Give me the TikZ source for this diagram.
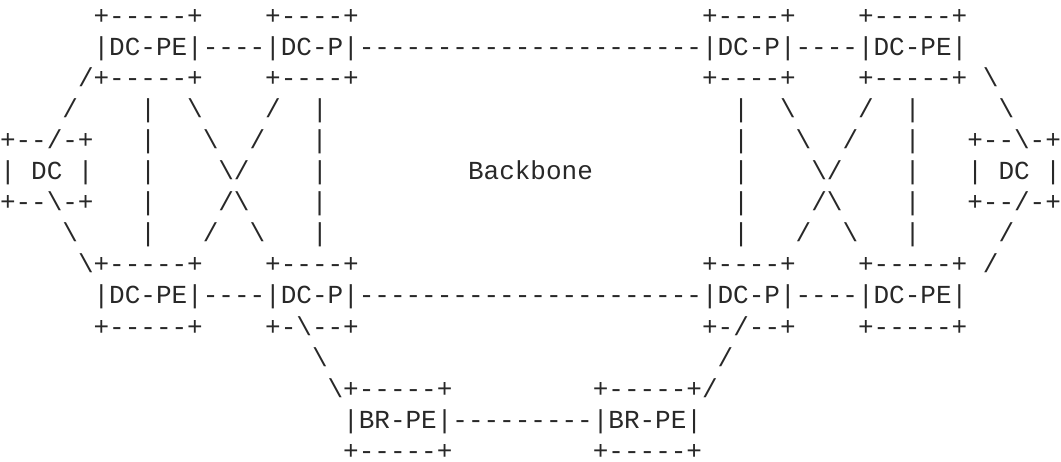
\documentclass[tikz,border=0pt]{standalone}
\usepackage{fontspec}
\setmonofont{Liberation Mono}
\newlength\cw
\setlength\cw{15.6023pt}
\newcommand\gap[1]{\hspace*{#1\cw}}
\newcommand\bs{\textbackslash}
\definecolor{ink}{RGB}{40,40,40}
\tikzset{asciirow/.style={anchor=base west,inner sep=0pt,outer sep=0pt,text=ink,text depth=0pt,
  font=\ttfamily\fontsize{26}{31}\selectfont}}
\begin{document}
\begin{tikzpicture}[x=1pt,y=1pt]
\useasboundingbox (0,0) rectangle (1061,-461);
\node[asciirow] (r1) at (0,{-(24+31.1*0)}) {\gap{6}+-----+\gap{4}+----+\gap{22}+----+\gap{4}+-----+};
\node[asciirow] (r2) at (0,{-(24+31.1*1)}) {\gap{6}|DC-PE|----|DC-P|----------------------|DC-P|----|DC-PE|};
\node[asciirow] (r3) at (0,{-(24+31.1*2)}) {\gap{5}/+-----+\gap{4}+----+\gap{22}+----+\gap{4}+-----+\gap{1}\bs};
\node[asciirow] (r4) at (0,{-(24+31.1*3)}) {\gap{4}/\gap{4}|\gap{2}\bs\gap{4}/\gap{2}|\gap{26}|\gap{2}\bs\gap{4}/\gap{2}|\gap{5}\bs};
\node[asciirow] (r5) at (0,{-(24+31.1*4)}) {+--/-+\gap{3}|\gap{3}\bs\gap{2}/\gap{3}|\gap{26}|\gap{3}\bs\gap{2}/\gap{3}|\gap{3}+--\bs-+};
\node[asciirow] (r6) at (0,{-(24+31.1*5)}) {|\gap{1}DC\gap{1}|\gap{3}|\gap{4}\bs/\gap{4}|\gap{9}Backbone\gap{9}|\gap{4}\bs/\gap{4}|\gap{3}|\gap{1}DC\gap{1}|};
\node[asciirow] (r7) at (0,{-(24+31.1*6)}) {+--\bs-+\gap{3}|\gap{4}/\bs\gap{4}|\gap{26}|\gap{4}/\bs\gap{4}|\gap{3}+--/-+};
\node[asciirow] (r8) at (0,{-(24+31.1*7)}) {\gap{4}\bs\gap{4}|\gap{3}/\gap{2}\bs\gap{3}|\gap{26}|\gap{3}/\gap{2}\bs\gap{3}|\gap{5}/};
\node[asciirow] (r9) at (0,{-(24+31.1*8)}) {\gap{5}\bs+-----+\gap{4}+----+\gap{22}+----+\gap{4}+-----+\gap{1}/};
\node[asciirow] (r10) at (0,{-(24+31.1*9)}) {\gap{6}|DC-PE|----|DC-P|----------------------|DC-P|----|DC-PE|};
\node[asciirow] (r11) at (0,{-(24+31.1*10)}) {\gap{6}+-----+\gap{4}+-\bs--+\gap{22}+-/--+\gap{4}+-----+};
\node[asciirow] (r12) at (0,{-(24+31.1*11)}) {\gap{20}\bs\gap{25}/};
\node[asciirow] (r13) at (0,{-(24+31.1*12)}) {\gap{21}\bs+-----+\gap{9}+-----+/};
\node[asciirow] (r14) at (0,{-(24+31.1*13)}) {\gap{22}|BR-PE|---------|BR-PE|};
\node[asciirow] (r15) at (0,{-(24+31.1*14)}) {\gap{22}+-----+\gap{9}+-----+};
\end{tikzpicture}
\end{document}
